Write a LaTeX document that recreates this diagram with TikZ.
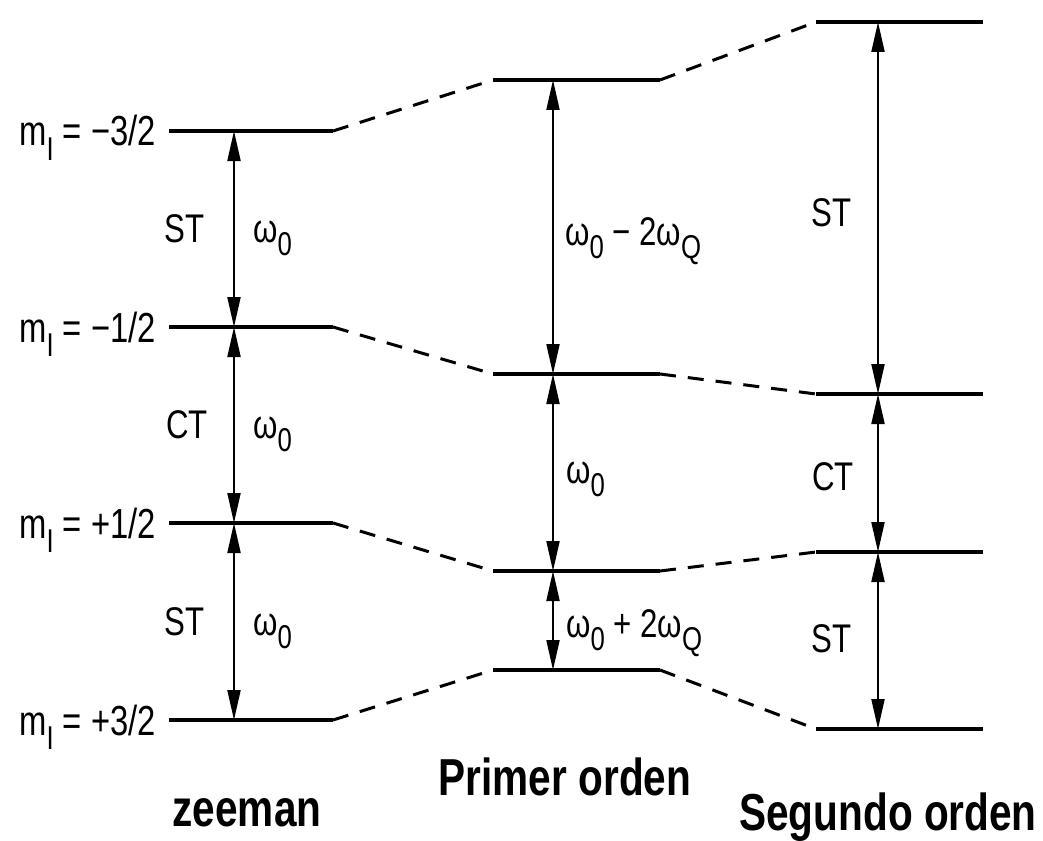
\documentclass[tikz,border=0pt]{standalone}
\usepackage{fontspec}
\setmainfont{Liberation Sans}[FakeStretch=0.78]
\usetikzlibrary{arrows.meta}

% lowered subscript used for m_I, omega_0 and omega_Q
\newcommand\lowsub[1]{\raisebox{-0.34em}{\fontsize{33}{33}\selectfont #1}}

\tikzset{
  level/.style={line width=4pt},
  trans/.style={line width=2pt,
    {Triangle[length=30pt,width=13pt]}-{Triangle[length=30pt,width=13pt]}},
  link/.style={line width=3pt, dash pattern=on 16pt off 12pt},
  mlabel/.style={anchor=base east, inner sep=0pt, font=\fontsize{42}{42}\selectfont},
  glabel/.style={inner sep=0pt, font=\fontsize{40}{40}\selectfont},
  title/.style={anchor=base, inner sep=0pt, font=\fontsize{52}{52}\selectfont\bfseries},
}

\begin{document}
\begin{tikzpicture}[x=1pt,y=-1pt]
\useasboundingbox (0,0) rectangle (1043,840);

% ---- level end points ----
% Zeeman
\coordinate (z1L) at (169,131); \coordinate (z1R) at (333,131);
\coordinate (z2L) at (169,327); \coordinate (z2R) at (333,327);
\coordinate (z3L) at (169,523); \coordinate (z3R) at (333,523);
\coordinate (z4L) at (169,720); \coordinate (z4R) at (333,720);
% first order
\coordinate (p1L) at (493,80);  \coordinate (p1R) at (660,80);
\coordinate (p2L) at (493,374); \coordinate (p2R) at (660,374);
\coordinate (p3L) at (493,571); \coordinate (p3R) at (660,571);
\coordinate (p4L) at (493,670); \coordinate (p4R) at (660,670);
% second order
\coordinate (s1L) at (816,22);  \coordinate (s1R) at (983,22);
\coordinate (s2L) at (816,394); \coordinate (s2R) at (983,394);
\coordinate (s3L) at (816,552); \coordinate (s3R) at (983,552);
\coordinate (s4L) at (816,729); \coordinate (s4R) at (983,729);

% columns of the transition arrows
\coordinate (zx) at (234,0);
\coordinate (px) at (553,0);
\coordinate (sx) at (878,0);

% ---- levels ----
\foreach \c in {z,p,s}
  \foreach \i in {1,2,3,4}
    \draw[level] (\c\i L) -- (\c\i R);

% ---- dashed correlation lines ----
\foreach \i in {1,2,3,4} {
  \draw[link] (z\i R) -- (p\i L);
  \draw[link] (p\i R) -- (s\i L);
}

% ---- transitions ----
\draw[trans] (z1L -| zx) -- (z2L -| zx);
\draw[trans] (z2L -| zx) -- (z3L -| zx);
\draw[trans] (z3L -| zx) -- (z4L -| zx);
\draw[trans] (p1L -| px) -- (p2L -| px);
\draw[trans] (p2L -| px) -- (p3L -| px);
\draw[trans] (p3L -| px) -- (p4L -| px);
\draw[trans] (s1L -| sx) -- (s2L -| sx);
\draw[trans] (s2L -| sx) -- (s3L -| sx);
\draw[trans] (s3L -| sx) -- (s4L -| sx);

% ---- level labels ----
\node[mlabel] (m1) at (156,146) {m\lowsub{I} = −3/2};
\node[mlabel] (m2) at (156,342) {m\lowsub{I} = −1/2};
\node[mlabel] (m3) at (156,538) {m\lowsub{I} = +1/2};
\node[mlabel] (m4) at (156,735) {m\lowsub{I} = +3/2};

% ---- Zeeman transition labels ----
\node[glabel, anchor=base east] (zt1) at (205,242) {ST};
\node[glabel, anchor=base east] (zt2) at (208,438) {CT};
\node[glabel, anchor=base east] (zt3) at (205,635) {ST};
\node[glabel, anchor=base west] (zw1) at (253,242) {ω\lowsub{0}};
\node[glabel, anchor=base west] (zw2) at (253,438) {ω\lowsub{0}};
\node[glabel, anchor=base west] (zw3) at (253,635) {ω\lowsub{0}};

% ---- first-order transition labels ----
\node[glabel, anchor=base west] (pw1) at (565,245) {ω\lowsub{0} − 2ω\lowsub{Q}};
\node[glabel, anchor=base west] (pw2) at (566,483) {ω\lowsub{0}};
\node[glabel, anchor=base west] (pw3) at (566,637) {ω\lowsub{0} + 2ω\lowsub{Q}};

% ---- second-order transition labels ----
\node[glabel, anchor=base east] (st1) at (852,226) {ST};
\node[glabel, anchor=base east] (st2) at (854,490) {CT};
\node[glabel, anchor=base east] (st3) at (852,652) {ST};

% ---- column titles ----
\node[title] (tz) at (247,826) {zeeman};
\node[title] (tp) at (565,795) {Primer orden};
\node[title] (ts) at (888,830) {Segundo orden};
\end{tikzpicture}
\end{document}
